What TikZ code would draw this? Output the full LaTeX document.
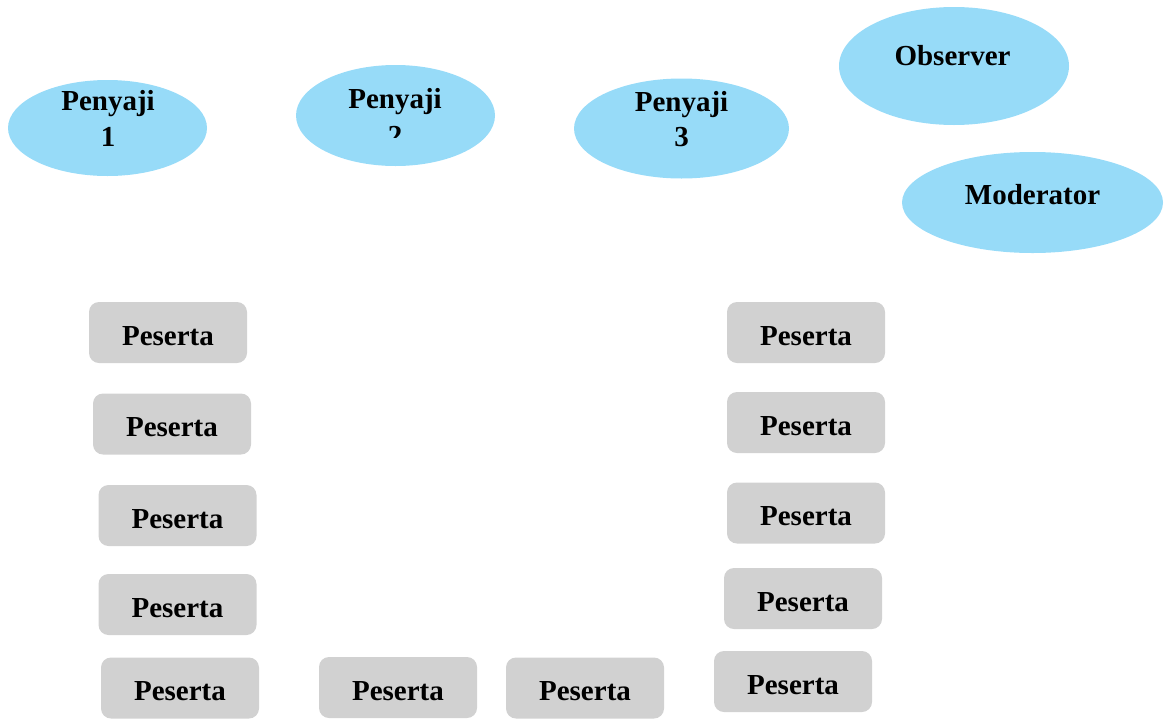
\documentclass[tikz,border=0pt]{standalone}
\usepackage{fontspec}
\setmainfont{Liberation Serif}
\usetikzlibrary{shapes.geometric}
\definecolor{roleblue}{RGB}{151,219,248}
\definecolor{seatgray}{RGB}{209,209,209}
\tikzset{
  role/.style={ellipse, fill=roleblue, draw=none, inner sep=0pt},
  label/.style={font=\fontsize{29}{36}\selectfont\bfseries, inner sep=0pt, anchor=base},
  seat/.style={rectangle, rounded corners=10pt, fill=seatgray, draw=none,
    minimum width=158pt, minimum height=61pt, inner sep=0pt,
    font=\fontsize{29}{36}\selectfont\bfseries, text height=25pt, text depth=0pt}
}
\begin{document}
\begin{tikzpicture}[x=1pt,y=-1pt]
\useasboundingbox (0,0) rectangle (1166,718);

% speakers, observer and moderator
\node[role, minimum width=199pt, minimum height=96pt]  (pen1) at (107.5,128) {};
\node[role, minimum width=199pt, minimum height=101pt] (pen2) at (395.5,115.5) {};
\node[role, minimum width=215pt, minimum height=100pt] (pen3) at (681.5,128.5) {};
\node[role, minimum width=230pt, minimum height=118pt] (obs)  at (954,66) {};
\node[role, minimum width=261pt, minimum height=101pt] (mod)  at (1032.5,202.5) {};

\node[label] (pen1a) at (108,110) {Penyaji};
\node[label] (pen1b) at (108,146) {1};
\node[label] (pen2a) at (395,108) {Penyaji};
\begin{scope}
  \clip (300,60) rectangle (490,137);
  \node[label] (pen2b) at (395,145) {2};
\end{scope}
\node[label] (pen3a) at (681.5,111) {Penyaji};
\node[label] (pen3b) at (681.5,146) {3};
\node[label] (obsl) at (952.5,65) {Observer};
\node[label] (modl) at (1032.5,204) {Moderator};

% participants: left column
\node[seat] (l1) at (168,332.5) {Peserta};
\node[seat] (l2) at (172,424) {Peserta};
\node[seat] (l3) at (177.5,515.5) {Peserta};
\node[seat] (l4) at (177.5,604.5) {Peserta};
\node[seat] (l5) at (180,688) {Peserta};
% bottom row
\node[seat] (b1) at (398,687.5) {Peserta};
\node[seat] (b2) at (585,688) {Peserta};
% right column
\node[seat] (r1) at (806,332.5) {Peserta};
\node[seat] (r2) at (806,422.5) {Peserta};
\node[seat] (r3) at (806,513) {Peserta};
\node[seat] (r4) at (803,598.5) {Peserta};
\node[seat] (r5) at (793,681.5) {Peserta};
\end{tikzpicture}
\end{document}
